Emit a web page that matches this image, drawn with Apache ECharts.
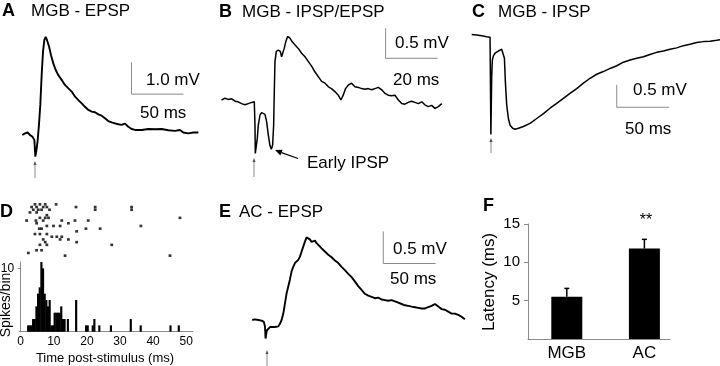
<!DOCTYPE html>
<html><head><meta charset="utf-8">
<script src="https://cdn.jsdelivr.net/npm/echarts@6/dist/echarts.min.js"></script>
<style>html,body{margin:0;padding:0;background:#fff}#c{width:720px;height:366px}</style>
</head><body><div id="c"></div>
<script>
// ---------------- DATA ----------------
// Panel A: MGB - EPSP  [time ms, mV]
const traceA = [[-12.2,0],[-9.6,0.05],[-7.1,0.08],[-4.8,0],[-2.6,-0.05],[-0.6,-0.16],[0.3,-0.68],[1.3,-0.5],[2.6,-0.16],[3.8,0.32],[5.1,0.95],[6.4,1.89],[7.7,2.63],[9.0,3.0],[10.3,3.1],[11.5,3.0],[13.5,2.79],[15.4,2.52],[17.6,2.26],[19.9,2.05],[22.4,1.89],[25.6,1.74],[28.8,1.58],[32.1,1.47],[35.3,1.37],[38.5,1.21],[41.7,1.1],[44.9,1.0],[48.1,0.89],[51.3,0.79],[54.5,0.74],[57.7,0.72],[60.9,0.65],[64.1,0.61],[67.3,0.53],[70.5,0.44],[73.7,0.4],[76.9,0.37],[80.1,0.34],[83.3,0.32],[86.5,0.36],[89.7,0.26],[92.9,0.19],[96.2,0.16],[102.6,0.16],[109.0,0.19],[115.4,0.18],[121.8,0.19],[128.2,0.15],[134.6,0.13],[139.4,0.16],[142.6,0.08],[147.4,0.05],[152.2,0.08],[157.1,0.08]];
// Panel B: MGB - IPSP/EPSP
const traceB = [[-12.6,0],[-11.3,0.03],[-10.0,0.01],[-8.7,0.02],[-7.4,-0.02],[-6.2,-0.03],[-4.9,-0.06],[-3.6,-0.08],[-2.3,-0.06],[-1.0,-0.04],[0,-0.03],[0.26,-0.42],[0.38,-0.89],[0.77,-0.91],[1.15,-0.64],[1.54,-0.42],[2.18,-0.25],[2.82,-0.21],[3.46,-0.19],[4.1,-0.24],[4.74,-0.36],[5.38,-0.58],[6.03,-0.76],[6.54,-0.82],[7.05,-0.75],[7.44,-0.42],[7.69,0.14],[7.95,0.64],[8.46,0.81],[9.23,0.83],[10.0,0.81],[10.5,0.72],[11.0,0.74],[11.5,0.86],[12.1,0.97],[12.8,1.06],[13.7,1.03],[14.6,0.97],[15.6,0.92],[16.9,0.86],[18.2,0.78],[19.5,0.72],[20.8,0.64],[22.1,0.56],[23.3,0.47],[24.6,0.39],[25.9,0.31],[27.2,0.28],[28.5,0.22],[29.7,0.19],[31.0,0.14],[32.3,0.08],[33.3,0],[34.2,0.08],[35.1,0.19],[36.2,0.25],[37.4,0.28],[38.7,0.22],[40.0,0.21],[41.3,0.19],[42.6,0.18],[43.8,0.19],[45.1,0.17],[46.4,0.19],[47.7,0.21],[49.0,0.17],[50.3,0.11],[51.5,0.08],[52.8,0.07],[54.1,0.08],[55.4,0],[56.7,-0.06],[57.9,-0.07],[59.2,-0.04],[60.5,-0.02],[61.8,-0.04],[63.1,-0.06],[64.4,-0.03],[65.6,-0.08],[66.9,-0.11],[68.2,-0.09],[69.5,-0.14],[70.8,-0.11],[72.1,-0.06]];
// Panel C: MGB - IPSP
const traceC = [[-18.2,0.05],[-13.4,0.04],[-8.6,0.02],[-3.8,0],[-0.64,-0.01],[0,-0.02],[0.16,-2.19],[0.64,-2.19],[0.96,-0.86],[1.59,-0.52],[2.55,-0.43],[4.14,-0.37],[7.33,-0.32],[10.5,-0.28],[12.1,-0.26],[13.1,-0.48],[14.0,-1.01],[15.3,-1.53],[16.9,-1.83],[18.5,-1.98],[21.0,-2.05],[23.3,-2.07],[26.5,-2.05],[31.2,-2.01],[37.6,-1.94],[44.0,-1.83],[50.4,-1.72],[56.7,-1.6],[63.1,-1.49],[69.5,-1.38],[75.8,-1.27],[82.2,-1.16],[88.6,-1.04],[95.0,-0.93],[101.3,-0.84],[107.7,-0.78],[114.1,-0.71],[120.5,-0.65],[126.8,-0.57],[133.2,-0.52],[139.6,-0.48],[146.0,-0.45],[152.3,-0.4],[158.7,-0.35],[165.1,-0.32],[171.4,-0.28],[177.8,-0.25],[184.2,-0.2],[190.6,-0.17],[196.9,-0.13],[203.3,-0.11],[209.7,-0.1],[216.1,-0.08],[219.2,-0.07]];
// Panel E: AC - EPSP
const traceE = [[-12.4,0],[-9.9,0.01],[-6.7,0],[-3.5,-0.01],[-1.3,-0.03],[-0.3,-0.1],[0.3,-0.29],[1.0,-0.21],[1.6,-0.16],[2.9,-0.13],[4.5,-0.11],[6.0,-0.13],[9.2,-0.11],[12.4,-0.1],[14.0,-0.06],[15.6,0],[17.2,0.1],[18.8,0.26],[20.4,0.42],[21.9,0.52],[23.5,0.63],[25.1,0.76],[26.7,0.83],[28.3,0.89],[29.9,0.9],[31.5,0.94],[33.1,0.99],[34.7,1.07],[36.3,1.15],[37.8,1.22],[39.4,1.29],[41.0,1.3],[42.6,1.26],[44.2,1.22],[45.8,1.21],[47.4,1.24],[49.0,1.2],[50.6,1.17],[53.8,1.12],[56.9,1.07],[60.1,1.02],[63.3,0.98],[66.5,0.93],[69.7,0.89],[72.8,0.83],[76.0,0.78],[79.2,0.72],[82.4,0.67],[85.6,0.6],[88.7,0.53],[91.9,0.47],[95.1,0.41],[98.3,0.38],[101.5,0.36],[104.6,0.34],[107.8,0.35],[111.0,0.32],[114.2,0.31],[117.4,0.3],[120.5,0.31],[123.7,0.29],[126.9,0.27],[130.1,0.25],[133.3,0.23],[136.5,0.22],[139.6,0.21],[142.8,0.2],[146.0,0.19],[149.2,0.18],[152.4,0.18],[155.5,0.2],[158.7,0.22],[161.9,0.25],[165.1,0.21],[168.3,0.17],[171.4,0.16],[174.6,0.13],[177.8,0.1],[181.0,0.1],[184.2,0.08],[187.3,0.05],[190.5,0.01]];
// Scale bars [anchor ms, anchor mV, length ms, length mV]
const scaleA = [92.8, 1.29, 50, 1.0];
const scaleB = [50.5, 0.695, 20, 0.5];
const scaleC = [120.5, -1.579, 50, 0.5];
const scaleE = [112.6, 0.883, 50, 0.5];
// Panel D: raster (time ms, trial) and PSTH (0.5 ms bins)
const rasterTimes  = [4.3,5.8,7.4,10.7,16.7,22.5,33.5,3.3,4.8,6.8,7.9,22.5,33.5,3.8,5.3,6.3,8.7,2.8,4.8,7.9,5.8,7.4,8.4,48.1,1.8,4.6,6.8,12.4,16.4,20.4,14.4,4.8,7.9,9.9,11.9,36.3,5.6,6.3,19.7,24.0,16.9,5.8,7.9,4.3,9.4,10.9,12.4,14.4,6.8,11.9,16.9,7.4,5.8,7.9,27.5,6.3,4.8,2.3,13.4,45.1];
const rasterTrials = [1,1,1,1,2,2,2,2,2,2,2,3,3,3,3,3,3,4,4,5,6,6,6,6,7,7,7,7,7,7,8,8,9,9,9,9,10,10,10,10,11,12,12,12,13,13,13,14,14,14,15,15,16,16,16,18,18,19,20,20];
const histBinStart = [2.0,2.5,3.0,3.5,4.0,4.5,5.0,5.5,6.0,6.5,7.0,7.5,8.0,8.5,9.0,9.5,10.0,10.5,11.0,11.5,12.0,12.5,13.0,14.0,16.5,19.5,20.0,21.5,22.0,23.5,27.0,33.0,36.0,45.0,47.5];
const histCounts   = [1,1,1,2,2,4,6,7,11,10,6,5,4,5,1,1,3,3,3,3,4,2,2,2,5,1,1,1,2,1,1,2,1,1,1];
const histBinWidth = 0.5;
const histXTicks = [0,10,20,30,40,50];
// Panel F: latency
const latencyCategories = ['MGB','AC'];
const latencyMeans = [5.5, 11.8];
const latencyErrors = [1.1, 1.2];
const latencyTicks = [5,10,15];

// ---------------- CHART ----------------
const FONT = 'Liberation Sans, Arial, Helvetica, sans-serif';
const GRAY = '#8a8a8a';
const chart = echarts.init(document.getElementById('c'), null, {renderer:'canvas'});

function hiddenAxis(gi, min, max, inverse){
  return {type:'value', gridIndex:gi, min:min, max:max, show:false, inverse:!!inverse, splitLine:{show:false}};
}
function g(left, top, width, height){
  return {left:left, top:top, width:width, height:height, outerBoundsMode:'none', containLabel:false, show:false};
}
function traceSeries(gi, data, w){
  return {type:'line', xAxisIndex:gi, yAxisIndex:gi, data:data, showSymbol:false, symbol:'none',
    lineStyle:{color:'#000', width:w}, silent:true, animation:false, clip:false, z:3};
}
function scaleSeries(gi, s){
  return {type:'line', xAxisIndex:gi, yAxisIndex:gi, data:[[s[0], s[1]+s[3]],[s[0], s[1]],[s[0]+s[2], s[1]]],
    showSymbol:false, symbol:'none', lineStyle:{color:GRAY, width:1}, silent:true, animation:false, clip:false};
}

const grids = [
  g(9, 20.9, 199.68, 158.5),      // 0 A
  g(215.3, 19, 234, 159),         // 1 B
  g(469.8, 23.3, 251.04, 129.6),  // 2 C
  g(19.05, 203, 173.8, 54),       // 3 D raster
  g(19.05, 262, 173.8, 69.7),     // 4 D hist
  g(244.3, 224, 230.56, 147.2),   // 5 E
  g(528, 224, 142, 115)           // 6 F
];

const xAxes = [
  hiddenAxis(0, -25, 167), hiddenAxis(1, -15, 75), hiddenAxis(2, -20, 220),
  hiddenAxis(3, -0.5, 52),
  {type:'value', gridIndex:4, min:-0.5, max:52, splitLine:{show:false},
    axisLine:{show:true, lineStyle:{color:GRAY, width:1}}, axisTick:{show:false},
    axisLabel:{customValues:histXTicks, fontSize:12, color:'#000', fontFamily:FONT, margin:4}},
  hiddenAxis(5, -20, 200),
  {type:'value', gridIndex:6, min:0.5, max:2.33, splitLine:{show:false},
    axisLine:{show:true, lineStyle:{color:GRAY, width:1}}, axisTick:{show:false},
    axisLabel:{customValues:[1,2], fontSize:17, color:'#000', fontFamily:FONT, margin:6,
      formatter:function(v){ return latencyCategories[Math.round(v)-1] || ''; }}}
];
const yAxes = [
  hiddenAxis(0, -1.4, 3.6), hiddenAxis(1, -1.3, 1.35), hiddenAxis(2, -2.6, 0.3),
  hiddenAxis(3, 0.5, 20.5, true),
  {type:'value', gridIndex:4, min:0, max:11, splitLine:{show:false},
    axisLine:{show:true, lineStyle:{color:GRAY, width:1}},
    axisTick:{show:true, length:3, customValues:[10], lineStyle:{color:GRAY}},
    axisLabel:{customValues:[10], fontSize:12, color:'#000', fontFamily:FONT, margin:5}},
  hiddenAxis(5, -0.8, 1.5),
  {type:'value', gridIndex:6, min:0, max:15, interval:5, splitLine:{show:false},
    axisLine:{show:true, lineStyle:{color:GRAY, width:1}},
    axisTick:{show:true, length:4, customValues:latencyTicks, lineStyle:{color:GRAY}},
    axisLabel:{customValues:latencyTicks, fontSize:15, color:'#000', fontFamily:FONT, margin:8}}
];

const series = [
  traceSeries(0, traceA, 1.9), scaleSeries(0, scaleA),
  traceSeries(1, traceB, 1.5), scaleSeries(1, scaleB),
  traceSeries(2, traceC, 1.5), scaleSeries(2, scaleC),
  traceSeries(5, traceE, 1.9), scaleSeries(5, scaleE),
  {type:'scatter', xAxisIndex:3, yAxisIndex:3, symbol:'rect', symbolSize:[2.8,2.6],
    itemStyle:{color:'#000'}, silent:true, animation:false,
    data: rasterTimes.map(function(t,i){ return [t, rasterTrials[i]]; })},
  {type:'custom', xAxisIndex:4, yAxisIndex:4, silent:true, animation:false,
    data: histBinStart.map(function(s,i){ return [s, histCounts[i]]; }),
    renderItem:function(params, api){
      var s = api.value(0), c = api.value(1);
      var p0 = api.coord([s, 0]), p1 = api.coord([s + histBinWidth, c]);
      return {type:'rect', shape:{x:p0[0]-0.25, y:p1[1], width:p1[0]-p0[0]+0.5, height:p0[1]-p1[1]}, style:{fill:'#000'}};
    }},
  {type:'bar', xAxisIndex:6, yAxisIndex:6, barWidth:31, silent:true, animation:false,
    itemStyle:{color:'#000'},
    data: latencyMeans.map(function(m,i){ return [i+1, m]; })},
  {type:'custom', xAxisIndex:6, yAxisIndex:6, silent:true, animation:false, z:5,
    data: latencyMeans.map(function(m,i){ return [i+1, m, latencyErrors[i]]; }),
    renderItem:function(params, api){
      var x = api.value(0), m = api.value(1), e = api.value(2);
      var p0 = api.coord([x, m]), p1 = api.coord([x, m+e]);
      return {type:'group', children:[
        {type:'line', shape:{x1:p0[0], y1:p0[1], x2:p1[0], y2:p1[1]}, style:{stroke:'#000', lineWidth:1.5}},
        {type:'line', shape:{x1:p1[0]-2.5, y1:p1[1], x2:p1[0]+2.5, y2:p1[1]}, style:{stroke:'#000', lineWidth:1.5}}
      ]};
    }}
];

function txt(x, y, s, size, bold, align){
  return {type:'text', x:x, y:y, silent:true, z:10,
    style:{text:s, fontSize:size, fontFamily:FONT, fontWeight:bold?'bold':'normal', fill:'#000',
      textAlign:align||'left', textVerticalAlign:'middle'}};
}
function stim(x, yTop, yBot){
  return [{type:'line', silent:true, shape:{x1:x, y1:yTop+3, x2:x, y2:yBot}, style:{stroke:GRAY, lineWidth:1}},
          {type:'polygon', silent:true, shape:{points:[[x-1.6,yTop+4],[x,yTop],[x+1.6,yTop+4]]}, style:{fill:'#555'}}];
}

const graphics = [].concat(
  [txt(2, 11, 'A', 18, true), txt(31, 11, 'MGB - EPSP', 17),
   txt(146, 80, '1.0 mV', 17), txt(140, 113, '50 ms', 17),
   txt(219, 12, 'B', 18, true), txt(242, 12, 'MGB - IPSP/EPSP', 17),
   txt(395, 43, '0.5 mV', 17), txt(393, 80, '20 ms', 17),
   txt(307, 163, 'Early IPSP', 17),
   txt(472, 12, 'C', 18, true), txt(498, 12, 'MGB - IPSP', 17),
   txt(633, 90, '0.5 mV', 17), txt(625, 129, '50 ms', 17),
   txt(0, 212, 'D', 18, true),
   txt(219, 212, 'E', 18, true), txt(239, 212, 'AC - EPSP', 17),
   txt(393, 249, '0.5 mV', 17), txt(390, 279, '50 ms', 17),
   txt(483, 206, 'F', 18, true),
   txt(646, 221, '**', 16, false, 'center'),
   txt(105, 358, 'Time post-stimulus (ms)', 13, false, 'center'),
   {type:'text', x:6, y:305, rotation:Math.PI/2, silent:true,
     style:{text:'Spikes/bin', fontSize:14, fontFamily:FONT, fill:'#000', textAlign:'center', textVerticalAlign:'middle'}},
   {type:'text', x:489, y:282, rotation:Math.PI/2, silent:true,
     style:{text:'Latency (ms)', fontSize:17, fontFamily:FONT, fill:'#000', textAlign:'center', textVerticalAlign:'middle'}},
   {type:'line', silent:true, shape:{x1:298, y1:158.5, x2:281.5, y2:152.6}, style:{stroke:'#000', lineWidth:1.3}},
   {type:'polygon', silent:true, shape:{points:[[275,150],[282.6,149.8],[280.4,155.4]]}, style:{fill:'#000'}}
  ],
  stim(35, 161, 178), stim(254, 158, 177), stim(491, 138, 153), stim(267, 350, 366)
);

chart.setOption({
  animation:false,
  backgroundColor:'#fff',
  grid: grids, xAxis: xAxes, yAxis: yAxes, series: series, graphic: graphics
});
</script></body></html>
